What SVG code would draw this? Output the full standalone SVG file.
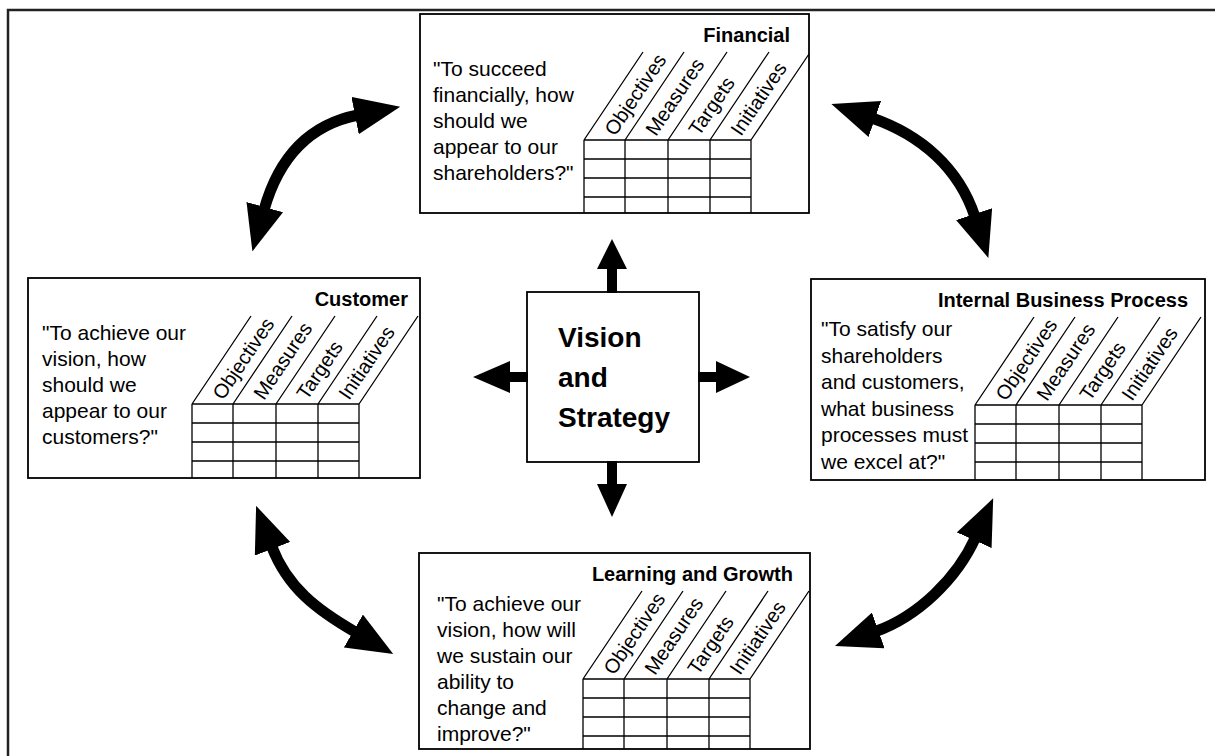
<svg xmlns="http://www.w3.org/2000/svg" width="1215" height="756" viewBox="0 0 1215 756">
<style>
.box{fill:#fff;stroke:#000;stroke-width:1.8}
.grid{stroke:#000;stroke-width:1.3;fill:none}
.t{font-family:"Liberation Sans",Arial,sans-serif;font-size:21px;fill:#000}
.title{font-family:"Liberation Sans",Arial,sans-serif;font-size:20px;font-weight:bold;text-anchor:end;fill:#000}
.hd{font-family:"Liberation Sans",Arial,sans-serif;font-size:20px;fill:#000}
.vs{font-family:"Liberation Sans",Arial,sans-serif;font-size:28px;font-weight:bold;fill:#000}
.curve{fill:none;stroke:#000;stroke-width:11;marker-start:url(#head);marker-end:url(#head)}
.solid{fill:#000;stroke:none}
</style>
<defs>
<marker id="head" markerUnits="userSpaceOnUse" viewBox="0 0 46 38" markerWidth="46" markerHeight="38" refX="3" refY="19" orient="auto-start-reverse"><path d="M0,0 L46,19 L0,38 z" fill="#000"/></marker>
</defs>
<rect x="0" y="0" width="1215" height="756" fill="#fff"/>
<path d="M8,756 V10 H1215" stroke="#222" stroke-width="2.5" fill="none"/>

<g id="financial" transform="translate(420,14)">
<rect class="box" x="0" y="0" width="389" height="199"/>
<text class="title" x="370" y="28">Financial</text>
<text class="t"><tspan x="13" y="62">"To succeed</tspan><tspan x="13" y="88">financially, how</tspan><tspan x="13" y="114">should we</tspan><tspan x="13" y="140">appear to our</tspan><tspan x="13" y="166">shareholders?"</tspan></text>
<path class="grid" d="M164,126V199M205,126V199M248,126V199M290,126V199M331,126V199M164,126H331M164,145H331M164,164H331M164,183H331M164,126L223,38M205,126L264,38M248,126L307,38M290,126L349,38M331,126L389,40"/>
<text class="hd" transform="translate(195,123) rotate(-56)">Objectives</text>
<text class="hd" transform="translate(236,123) rotate(-56)">Measures</text>
<text class="hd" transform="translate(279,123) rotate(-56)">Targets</text>
<text class="hd" transform="translate(321,123) rotate(-56)">Initiatives</text>
</g>

<g id="customer" transform="translate(28,278)">
<rect class="box" x="0" y="0" width="392" height="200"/>
<text class="title" x="380" y="28">Customer</text>
<text class="t"><tspan x="14" y="62">"To achieve our</tspan><tspan x="14" y="88">vision, how</tspan><tspan x="14" y="114">should we</tspan><tspan x="14" y="140">appear to our</tspan><tspan x="14" y="166">customers?"</tspan></text>
<path class="grid" d="M164,126V200M205,126V200M248,126V200M290,126V200M331,126V200M164,126H331M164,145H331M164,164H331M164,183H331M164,126L223,38M205,126L264,38M248,126L307,38M290,126L349,38M331,126L390,38"/>
<text class="hd" transform="translate(195,123) rotate(-56)">Objectives</text>
<text class="hd" transform="translate(236,123) rotate(-56)">Measures</text>
<text class="hd" transform="translate(279,123) rotate(-56)">Targets</text>
<text class="hd" transform="translate(321,123) rotate(-56)">Initiatives</text>
</g>

<g id="internal-business-process" transform="translate(811,279)">
<rect class="box" x="0" y="0" width="394" height="201"/>
<text class="title" x="377" y="28">Internal Business Process</text>
<text class="t"><tspan x="10" y="57">"To satisfy our</tspan><tspan x="10" y="83.5">shareholders</tspan><tspan x="10" y="110">and customers,</tspan><tspan x="10" y="136.5">what business</tspan><tspan x="10" y="163">processes must</tspan><tspan x="10" y="189.5">we excel at?"</tspan></text>
<path class="grid" d="M164,126V201M205,126V201M248,126V201M290,126V201M331,126V201M164,126H331M164,145H331M164,164H331M164,183H331M164,126L223,38M205,126L264,38M248,126L307,38M290,126L349,38M331,126L390,38"/>
<text class="hd" transform="translate(195,123) rotate(-56)">Objectives</text>
<text class="hd" transform="translate(236,123) rotate(-56)">Measures</text>
<text class="hd" transform="translate(279,123) rotate(-56)">Targets</text>
<text class="hd" transform="translate(321,123) rotate(-56)">Initiatives</text>
</g>

<g id="learning-and-growth" transform="translate(419,553)">
<rect class="box" x="0" y="0" width="391" height="196"/>
<text class="title" x="374" y="28">Learning and Growth</text>
<text class="t"><tspan x="18" y="58">"To achieve our</tspan><tspan x="18" y="84">vision, how will</tspan><tspan x="18" y="110">we sustain our</tspan><tspan x="18" y="136">ability to</tspan><tspan x="18" y="162">change and</tspan><tspan x="18" y="188">improve?"</tspan></text>
<path class="grid" d="M164,126V196M205,126V196M248,126V196M290,126V196M331,126V196M164,126H331M164,145H331M164,164H331M164,183H331M164,126L223,38M205,126L264,38M248,126L307,38M290,126L349,38M331,126L390,38"/>
<text class="hd" transform="translate(195,123) rotate(-56)">Objectives</text>
<text class="hd" transform="translate(236,123) rotate(-56)">Measures</text>
<text class="hd" transform="translate(279,123) rotate(-56)">Targets</text>
<text class="hd" transform="translate(321,123) rotate(-56)">Initiatives</text>
</g>

<g id="vision-and-strategy">
<rect class="box" x="527" y="292" width="172" height="170"/>
<text class="vs"><tspan x="558" y="347">Vision</tspan><tspan x="558" y="387">and</tspan><tspan x="558" y="427">Strategy</tspan></text>
</g>

<g id="connectors">
<path class="solid" d="M607,293V269H597L612,239L627,269H617V293Z"/>
<path class="solid" d="M607,461V484H597L612,517L627,484H617V461Z"/>
<path class="solid" d="M528,372H510V361L473,377L510,393V382H528Z"/>
<path class="solid" d="M698,372H716V361L750,377L716,393V382H698Z"/>
<path class="curve" d="M264,210 C278,160 307,125 358,115"/>
<path class="curve" d="M872,118 C921,135 959,168 975,217"/>
<path class="curve" d="M271.5,546 C287.6,588 317,610 356,632.5"/>
<path class="curve" d="M875.5,631.5 C918,616.4 957,578.5 975.5,537.5"/>
</g>
</svg>
